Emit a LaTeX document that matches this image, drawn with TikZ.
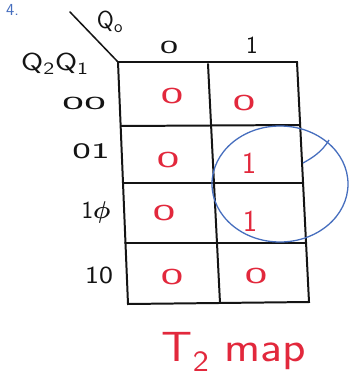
\documentclass[tikz,border=0pt]{standalone}
\usepackage{tikz}
\usetikzlibrary{calc}
\usepackage{xcolor}
\usepackage{amsmath}
\usepackage{graphicx}
\definecolor{PenRed}{RGB}{226,40,60}
\definecolor{PenBlue}{RGB}{70,110,190}
\definecolor{PenBlack}{RGB}{20,20,20}
\newcommand{\flatwide}[1]{\scalebox{1.6}[0.75]{#1}}
\tikzset{
  gridline/.style={draw=PenBlack, line width=1.7pt, line cap=round},
  axislabel/.style={text=PenBlack, font=\sffamily\fontsize{21}{23}\selectfont, inner sep=1pt},
  cellval/.style={text=PenRed, font=\sffamily\fontsize{26}{28}\selectfont, inner sep=1pt},
  loopline/.style={draw=PenBlue, line width=1.1pt},
  caption/.style={text=PenRed, font=\sffamily\fontsize{36}{38}\selectfont, inner sep=1pt}
}

\begin{document}
\begin{tikzpicture}[x=0.03cm, y=-0.03cm]
      \useasboundingbox[fill=white] (0,0) rectangle (349,390);
      % title
      \node[text=PenBlue, font=\sffamily\Large, anchor=north west] (title) at (2,0) {4.};
      % the map
      \coordinate (corner) at (118,62);
      \draw[gridline] (corner) -- (297,62) -- (309,302) -- (128,304) -- cycle;
      \draw[gridline] (208,64) -- (220,303);
      \draw[gridline] (121,126) -- (299,125);
      \draw[gridline] (123,183) -- (302,183);
      \draw[gridline] (125,243) -- (305,243);
      % variable names
      \coordinate (slash) at (70,12);
      \draw[gridline, line width=1.3pt] (slash) -- (corner);
      \node[axislabel] (qzero) at (110,22) {Q\textsubscript{o}};
      \node[axislabel] (qtwoone) at (55,64) {\scalebox{1.3}[1]{Q\textsubscript{2}Q\textsubscript{1}}};
      % column labels
      \node[axislabel] (colzero) at (169,47) {\flatwide{0}};
      \node[axislabel] (colone) at (252,45) {1};
      % row labels
      \node[axislabel] (rowa) at (84,103) {\scalebox{1.9}[0.75]{00}};
      \node[axislabel] (rowb) at (91,151) {\scalebox{1.6}[0.9]{01}};
      \node[axislabel] (rowc) at (96,212) {1$\boldsymbol\phi$};
      \node[axislabel] (rowd) at (99,275) {\scalebox{1.2}[1]{10}};
      % cell values
      \node[cellval] (ca) at (172,96) {\flatwide{0}};
      \node[cellval] (cb) at (244,103) {\flatwide{0}};
      \node[cellval] (cc) at (168,160) {\flatwide{0}};
      \node[cellval] (cd) at (249,163) {1};
      \node[cellval] (ce) at (164,213) {\flatwide{0}};
      \node[cellval] (cf) at (250,221) {1};
      \node[cellval] (cg) at (172,277) {\flatwide{0}};
      \node[cellval] (ch) at (256,276) {\flatwide{0}};
      % group of ones
      \draw[loopline] (280,184) ellipse[x radius=68, y radius=58];
      \draw[loopline] (329,140) .. controls (322,152) and (312,158) .. (303,163);
      \node[caption] (mapname) at (234,352) {\scalebox{1.15}[1]{T\textsubscript{2} map}};
    \end{tikzpicture}
\end{document}
